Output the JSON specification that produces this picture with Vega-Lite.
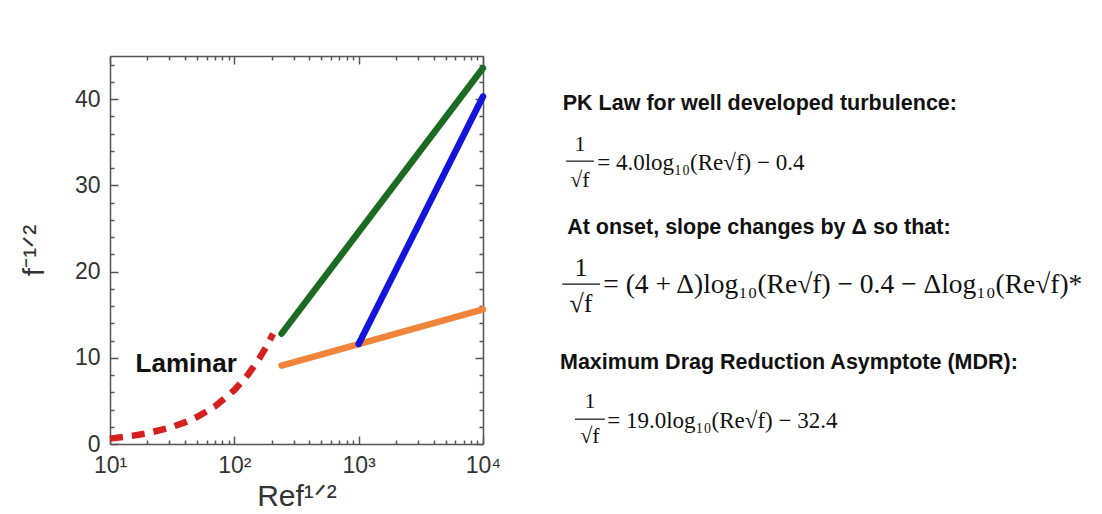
{
  "$schema": "https://vega.github.io/schema/vega-lite/v6.json",
  "background": "white",
  "padding": {"left": 19, "top": 53, "right": 0, "bottom": 0},
  "config": {
    "view": {"stroke": null},
    "font": "Liberation Sans",
    "concat": {"spacing": 39}
  },
  "hconcat": [
    {
      "width": 373,
      "height": 388,
      "resolve": {"axis": {"x": "independent", "y": "independent"}},
      "layer": [
        {
          "data": {"values": [
            {"re": 10, "f": 0.625}, {"re": 15, "f": 0.94}, {"re": 20, "f": 1.25},
            {"re": 30, "f": 1.875}, {"re": 40, "f": 2.5}, {"re": 50, "f": 3.125},
            {"re": 70, "f": 4.375}, {"re": 100, "f": 6.25}, {"re": 130, "f": 8.125},
            {"re": 160, "f": 10.0}, {"re": 185, "f": 11.56}, {"re": 205, "f": 12.8}
          ]},
          "mark": {"type": "line", "color": "#d42020", "strokeWidth": 6.5, "strokeDash": [13, 9], "strokeCap": "butt"},
          "encoding": {
            "x": {
              "field": "re", "type": "quantitative",
              "scale": {"type": "log", "domain": [10, 10000]},
              "axis": {
                "orient": "bottom",
                "values": [10,20,30,40,50,60,70,80,90,100,200,300,400,500,600,700,800,900,1000,2000,3000,4000,5000,6000,7000,8000,9000,10000],
                "labelExpr": "datum.value == 10 ? '10¹' : datum.value == 100 ? '10²' : datum.value == 1000 ? '10³' : datum.value == 10000 ? '10⁴' : ''",
                "labelOverlap": false,
                "labelFlush": false,
                "grid": false,
                "title": "Ref¹ᐟ²",
                "titleFontSize": 30,
                "titleFontWeight": "normal",
                "titleColor": "#333",
                "titlePadding": 0,
                "labelFontSize": 23,
                "labelColor": "#333",
                "labelPadding": 18,
                "domainColor": "#555",
                "domainWidth": 1.5,
                "tickColor": "#555",
                "tickWidth": 1.5,
                "tickSize": {"condition": {"test": "indexof([10,100,1000,10000], datum.value) >= 0", "value": -8}, "value": -4}
              }
            },
            "y": {
              "field": "f", "type": "quantitative",
              "scale": {"domain": [0, 45], "nice": false},
              "axis": {
                "orient": "left",
                "values": [0,2,4,6,8,10,12,14,16,18,20,22,24,26,28,30,32,34,36,38,40,42,44],
                "labelExpr": "datum.value % 10 === 0 ? datum.label : ''",
                "labelOverlap": false,
                "labelFlush": false,
                "grid": false,
                "title": "f⁻¹ᐟ²",
                "titleFontSize": 30,
                "titleFontWeight": "normal",
                "titleColor": "#333",
                "titlePadding": 25,
                "labelFontSize": 23,
                "labelColor": "#333",
                "labelPadding": 18,
                "domainColor": "#555",
                "domainWidth": 1.5,
                "tickColor": "#555",
                "tickWidth": 1.5,
                "tickSize": {"condition": {"test": "datum.value % 10 === 0", "value": -8}, "value": -4}
              }
            }
          }
        },
        {
          "data": {"values": [
            {"re": 240, "f": 12.8, "s": "MDR"}, {"re": 10000, "f": 43.6, "s": "MDR"},
            {"re": 240, "f": 9.1, "s": "PK"}, {"re": 10000, "f": 15.6, "s": "PK"},
            {"re": 1000, "f": 11.6, "s": "onset"}, {"re": 10000, "f": 40.3, "s": "onset"}
          ]},
          "mark": {"type": "line", "strokeWidth": 6.5, "strokeCap": "round"},
          "encoding": {
            "x": {"field": "re", "type": "quantitative", "scale": {"type": "log", "domain": [10, 10000]}, "axis": null},
            "y": {"field": "f", "type": "quantitative", "scale": {"domain": [0, 45], "nice": false}, "axis": null},
            "color": {
              "field": "s", "type": "nominal",
              "scale": {"domain": ["MDR", "PK", "onset"], "range": ["#1c6b22", "#f0843a", "#1414dc"]},
              "legend": null
            }
          }
        },
        {
          "data": {"values": [{"re": 41, "f": 9.3, "t": "Laminar"}]},
          "mark": {"type": "text", "fontSize": 26, "fontWeight": "bold", "color": "#111", "align": "center", "baseline": "middle"},
          "encoding": {
            "text": {"field": "t"},
            "x": {
              "field": "re", "type": "quantitative",
              "scale": {"type": "log", "domain": [10, 10000]},
              "axis": {
                "orient": "top",
                "values": [10,20,30,40,50,60,70,80,90,100,200,300,400,500,600,700,800,900,1000,2000,3000,4000,5000,6000,7000,8000,9000,10000],
                "labels": false,
                "title": null,
                "grid": false,
                "domainColor": "#555",
                "domainWidth": 1.5,
                "tickColor": "#555",
                "tickWidth": 1.5,
                "tickSize": {"condition": {"test": "indexof([10,100,1000,10000], datum.value) >= 0", "value": -8}, "value": -4}
              }
            },
            "y": {
              "field": "f", "type": "quantitative",
              "scale": {"domain": [0, 45], "nice": false},
              "axis": {
                "orient": "right",
                "values": [0,2,4,6,8,10,12,14,16,18,20,22,24,26,28,30,32,34,36,38,40,42,44],
                "labels": false,
                "title": null,
                "grid": false,
                "domainColor": "#555",
                "domainWidth": 1.5,
                "tickColor": "#555",
                "tickWidth": 1.5,
                "tickSize": {"condition": {"test": "datum.value % 10 === 0", "value": -8}, "value": -4}
              }
            }
          }
        }
      ]
    },
    {
      "width": 555,
      "height": 388,
      "layer": [
        {
          "data": {"values": [
            {"x": 4.1, "y": 12.4, "t": "PK Law for well developed turbulence:"},
            {"x": 4.9, "y": 44.3, "t": "At onset, slope changes by Δ so that:"},
            {"x": 3.6, "y": 79.1, "t": "Maximum Drag Reduction Asymptote (MDR):"}
          ]},
          "mark": {"type": "text", "font": "Liberation Sans", "fontSize": 21.5, "fontWeight": "bold", "color": "#111", "align": "left", "baseline": "middle"},
          "encoding": {
            "x": {"field": "x", "type": "quantitative", "scale": {"domain": [0, 100]}, "axis": null},
            "y": {"field": "y", "type": "quantitative", "scale": {"domain": [0, 100], "reverse": true}, "axis": null},
            "text": {"field": "t"}
          }
        },
        {
          "data": {"values": [
            {"x": 7.2, "y": 22.7, "t": "1", "eq": "1"},
            {"x": 7.2, "y": 32.0, "t": "√f", "eq": "1"},
            {"x": 7.4, "y": 54.6, "t": "1", "eq": "2"},
            {"x": 7.4, "y": 63.9, "t": "√f", "eq": "2"},
            {"x": 9.0, "y": 88.9, "t": "1", "eq": "3"},
            {"x": 9.0, "y": 97.9, "t": "√f", "eq": "3"}
          ]},
          "mark": {"type": "text", "font": "Liberation Serif", "color": "#111", "align": "center", "baseline": "middle"},
          "encoding": {
            "x": {"field": "x", "type": "quantitative", "scale": {"domain": [0, 100]}, "axis": null},
            "y": {"field": "y", "type": "quantitative", "scale": {"domain": [0, 100], "reverse": true}, "axis": null},
            "text": {"field": "t"},
            "size": {"condition": {"test": "datum.eq == '2'", "value": 26}, "value": 22}
          }
        },
        {
          "data": {"values": [
            {"x": 10.3, "y": 27.6, "t": "= 4.0log₁₀(Re√f) − 0.4", "eq": "1"},
            {"x": 11.4, "y": 59.0, "t": "= (4 + Δ)log₁₀(Re√f) − 0.4 − Δlog₁₀(Re√f)*", "eq": "2"},
            {"x": 12.1, "y": 94.1, "t": "= 19.0log₁₀(Re√f) − 32.4", "eq": "3"}
          ]},
          "mark": {"type": "text", "font": "Liberation Serif", "color": "#111", "align": "left", "baseline": "middle"},
          "encoding": {
            "x": {"field": "x", "type": "quantitative", "scale": {"domain": [0, 100]}, "axis": null},
            "y": {"field": "y", "type": "quantitative", "scale": {"domain": [0, 100], "reverse": true}, "axis": null},
            "text": {"field": "t"},
            "size": {"condition": {"test": "datum.eq == '2'", "value": 27.5}, "value": 23}
          }
        },
        {
          "data": {"values": [
            {"x": 4.7, "x2": 9.7, "y": 27.1},
            {"x": 4.0, "x2": 10.8, "y": 58.8},
            {"x": 6.3, "x2": 11.7, "y": 93.6}
          ]},
          "mark": {"type": "rule", "color": "#111", "strokeWidth": 1.2},
          "encoding": {
            "x": {"field": "x", "type": "quantitative", "scale": {"domain": [0, 100]}, "axis": null},
            "x2": {"field": "x2"},
            "y": {"field": "y", "type": "quantitative", "scale": {"domain": [0, 100], "reverse": true}, "axis": null}
          }
        }
      ]
    }
  ]
}
